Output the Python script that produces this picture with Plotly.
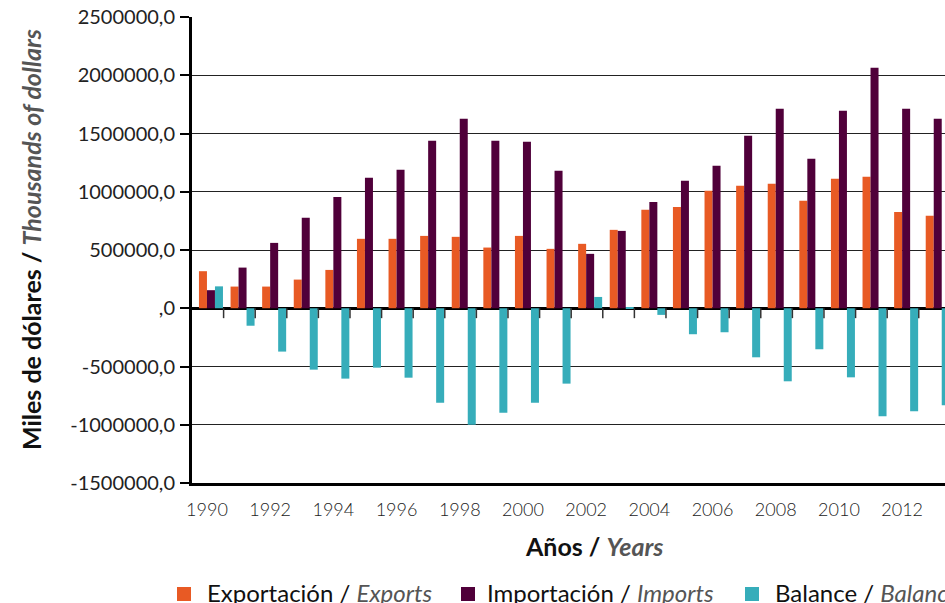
import plotly.graph_objects as go

years = list(range(1990, 2014))
exports = [318000, 186000, 186000, 246000, 329000, 596000, 596000, 621000, 613000, 521000,
           621000, 510000, 553000, 673000, 845000, 870000, 1008000, 1051000, 1068000, 922000,
           1111000, 1128000, 827000, 793000]
imports = [155000, 349000, 561000, 776000, 956000, 1120000, 1188000, 1437000, 1627000, 1437000,
           1429000, 1180000, 467000, 664000, 913000, 1094000, 1223000, 1480000, 1712000, 1283000,
           1695000, 2064000, 1712000, 1627000]
balance = [188000, -150000, -372000, -527000, -604000, -510000, -596000, -811000, -999000, -896000,
           -811000, -647000, 97000, 9000, -57000, -223000, -206000, -421000, -627000, -352000,
           -593000, -928000, -885000, -833000]

y_ticks = [-1500000, -1000000, -500000, 0, 500000, 1000000, 1500000, 2000000, 2500000]
y_ticktext = ["-1500000,0", "-1000000,0", "-500000,0", ",0", "500000,0",
              "1000000,0", "1500000,0", "2000000,0", "2500000,0"]
x_ticks = years[:-1:2]
x_ticktext = [str(y) for y in x_ticks]

series_names = ["Exportación / <i><span style='color:#555555'>Exports</span></i>",
                "Importación / <i><span style='color:#555555'>Imports</span></i>",
                "Balance / <i><span style='color:#555555'>Balance</span></i>"]
colors = ["#E85A24", "#50003A", "#36ADBA"]

W, H = 945, 603
L, T, R, B = 192, 17, 0, 120
PW, PH = W - L - R, H - T - B

def px_x(px):
    return (px - L) / PW

def px_y(py):
    return (H - B - py) / PH

FONT = "Lato, 'Open Sans', sans-serif"

fig = go.Figure()
for vals, c in zip([exports, imports, balance], colors):
    fig.add_trace(go.Bar(x=years, y=vals, marker=dict(color=c, line=dict(width=0)),
                         showlegend=False))

shapes = []
# small ticks on the zero line at category boundaries
for yr in years[:-1]:
    shapes.append(dict(type="line", xref="x", yref="y", x0=yr + 0.4, x1=yr + 0.4,
                       y0=0, y1=-85000, line=dict(color="#333333", width=1.5)))

annotations = []
# manual legend
leg = [(177, 207), (461, 487), (745, 775)]
for (sq, tx), name, c in zip(leg, series_names, colors):
    shapes.append(dict(type="rect", xref="paper", yref="paper",
                       x0=px_x(sq), x1=px_x(sq + 14), y0=px_y(587), y1=px_y(601),
                       fillcolor=c, line=dict(width=0)))
    annotations.append(dict(text=name, xref="paper", yref="paper", x=px_x(tx - 2), y=px_y(592),
                            xanchor="left", yanchor="middle", showarrow=False,
                            font=dict(family=FONT, size=24, color="#111111")))

annotations.append(dict(
    text="<b>Miles de dólares / <i><span style='color:#555555'>Thousands of dollars</span></i></b>",
    xref="paper", yref="paper", x=px_x(31), y=px_y(240), textangle=-90,
    xanchor="center", yanchor="middle", showarrow=False,
    font=dict(family=FONT, size=25, color="#111111")))
annotations.append(dict(
    text="<b>Años / <i><span style='color:#555555'>Years</span></i></b>",
    xref="paper", yref="paper", x=px_x(594), y=px_y(546),
    xanchor="center", yanchor="middle", showarrow=False,
    font=dict(family=FONT, size=25, color="#111111")))

fig.update_layout(
    width=W, height=H,
    margin=dict(l=L, r=R, t=T, b=B, autoexpand=False),
    paper_bgcolor="white", plot_bgcolor="white",
    barmode="group", bargap=0.24, bargroupgap=0,
    shapes=shapes, annotations=annotations,
    showlegend=False,
    xaxis=dict(range=[1989.4, 2013.23], tickvals=x_ticks, ticktext=x_ticktext,
               automargin=False,
               ticks="", showgrid=False, zeroline=False,
               showline=True, linecolor="black", linewidth=3,
               ticklabelshift=-4, ticklabelstandoff=8,
               tickfont=dict(family=FONT, size=18, color="#222222", weight=300)),
    yaxis=dict(range=[-1500000, 2500000], tickvals=y_ticks, ticktext=y_ticktext,
               automargin=False,
               ticks="outside", ticklen=9, tickwidth=1.5, tickcolor="black",
               showgrid=True, gridcolor="#222222", gridwidth=1,
               zeroline=True, zerolinecolor="black", zerolinewidth=2.5,
               showline=True, linecolor="black", linewidth=3,
               ticklabelstandoff=1,
               tickfont=dict(family=FONT, size=20, color="#222222")),
)

fig.write_html("out.html", config={"displayModeBar": False},
               post_script="document.body.style.margin='0';document.body.style.overflow='hidden';")
